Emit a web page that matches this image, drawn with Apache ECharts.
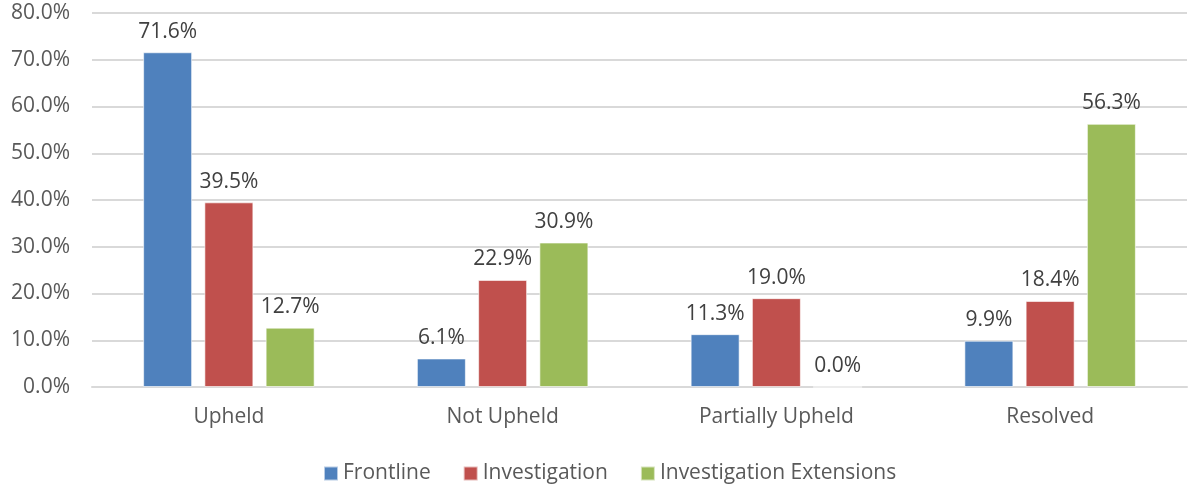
<!DOCTYPE html>
<html>
<head>
<meta charset="utf-8">
<script src="https://cdn.jsdelivr.net/npm/echarts@6/dist/echarts.min.js"></script>
<style>
html,body{margin:0;padding:0;background:#fff;}
#c{width:1191px;height:486px;}
</style>
</head>
<body>
<div id="c"></div>
<script>
const categories = ['Upheld', 'Not Upheld', 'Partially Upheld', 'Resolved'];
const seriesNames = ['Frontline', 'Investigation', 'Investigation Extensions'];
const frontline = [71.6, 6.1, 11.3, 9.9];
const investigation = [39.5, 22.9, 19.0, 18.4];
const extensions = [12.7, 30.9, 0.0, 56.3];
const colors = ['#4F81BD', '#C0504D', '#9BBB59'];

const FONT = '"Open Sans", sans-serif';
const chart = echarts.init(document.getElementById('c'), null, {renderer: 'canvas'});
const mk = (name, data, color) => ({
  name: name,
  type: 'bar',
  data: data,
  barWidth: 49,
  barGap: '25%',
  itemStyle: {color: color, borderColor: 'rgba(255,255,255,0.6)', borderWidth: 1},
  label: {
    show: true, position: 'top', distance: 10,
    formatter: p => p.value.toFixed(1) + '%',
    color: '#404040', fontFamily: FONT, fontSize: 21
  }
});
chart.setOption({
  animation: false,
  color: colors,
  grid: {left: 92, right: 4, top: 13, bottom: 99, containLabel: false},
  legend: {
    top: 458, left: 318, itemWidth: 14, itemHeight: 14, itemGap: 32,
    icon: 'rect',
    textStyle: {color: '#595959', fontFamily: FONT, fontSize: 21, padding: [0, 0, 0, 0]},
    data: seriesNames
  },
  xAxis: {
    type: 'category', data: categories,
    axisLine: {lineStyle: {color: '#d9d9d9', width: 2}},
    axisTick: {show: false},
    axisLabel: {color: '#595959', fontFamily: FONT, fontSize: 21, margin: 20}
  },
  yAxis: {
    type: 'value', min: 0, max: 80, interval: 10,
    axisLine: {show: false}, axisTick: {show: false},
    splitLine: {lineStyle: {color: '#d9d9d9', width: 2}},
    axisLabel: {color: '#595959', fontFamily: FONT, fontSize: 21, margin: 22,
      formatter: v => v.toFixed(1) + '%'}
  },
  series: [
    mk(seriesNames[0], frontline, colors[0]),
    mk(seriesNames[1], investigation, colors[1]),
    mk(seriesNames[2], extensions, colors[2])
  ]
});
</script>
</body>
</html>
